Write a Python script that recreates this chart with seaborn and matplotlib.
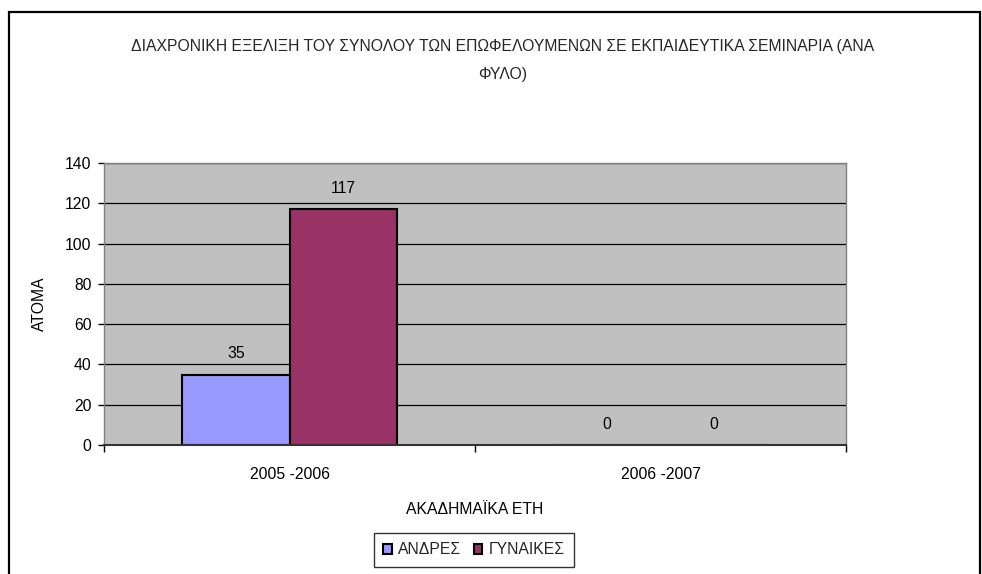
import matplotlib
matplotlib.use("Agg")
import matplotlib.pyplot as plt
import seaborn as sns
import pandas as pd
from matplotlib.patches import Rectangle, Patch

years = ["2005 -2006", "2006 -2007"]
series_names = ["ΑΝΔΡΕΣ", "ΓΥΝΑΙΚΕΣ"]
men = [35, 0]
women = [117, 0]
colors = ["#9999FF", "#993366"]
yticks = [0, 20, 40, 60, 80, 100, 120, 140]

df = pd.DataFrame({
    "year": years * 2,
    "group": [series_names[0]] * len(years) + [series_names[1]] * len(years),
    "value": men + women,
})

FS = 11.3

sns.set_theme(style="white")
plt.rcParams["font.family"] = ["Liberation Sans", "DejaVu Sans"]
plt.rcParams["font.size"] = FS

fig = plt.figure(figsize=(9.82, 5.74), dpi=100)
ax = fig.add_axes([104/982, 1-445/574, (846-104)/982, (445-163)/574])
ax.set_facecolor("#C0C0C0")

sns.barplot(data=df, x="year", y="value", hue="group", palette=colors,
            width=0.577, edgecolor="black", linewidth=1.5, ax=ax,
            legend=False, saturation=1, errorbar=None)

ax.set_ylim(0, 140)
ax.set_xlim(-0.5, 1.5)
ax.set_yticks(yticks)
ax.yaxis.grid(True, color="black", linewidth=0.9)
ax.set_axisbelow(True)
for s in ax.spines.values():
    s.set_color("#808080")
    s.set_linewidth(1.0)
ax.spines["bottom"].set_color("#333333")
ax.spines["bottom"].set_linewidth(1.5)

ax.tick_params(axis="y", left=True, length=4, width=1, color="black", pad=5,
               labelsize=FS, labelcolor="black")
ax.tick_params(axis="x", which="major", bottom=False, length=0, pad=16,
               labelsize=FS, labelcolor="black")
ax.set_xticks([-0.5, 0.5, 1.5], minor=True)
ax.tick_params(axis="x", which="minor", bottom=True, length=5, width=1, color="black")

for cont in ax.containers:
    for bar in cont:
        h = bar.get_height()
        ax.annotate(f"{h:.0f}", (bar.get_x() + bar.get_width()/2, h),
                    xytext=(0, 15), textcoords="offset points",
                    ha="center", va="center", fontsize=FS, color="black")

ax.set_ylabel("ΑΤΟΜΑ", fontsize=FS, labelpad=13, color="black")
ax.set_xlabel("ΑΚΑΔΗΜΑΪΚΑ ΕΤΗ", fontsize=FS, labelpad=14, color="black")

fig.text(503/982, 1-46/574,
         "ΔΙΑΧΡΟΝΙΚΗ ΕΞΕΛΙΞΗ ΤΟΥ ΣΥΝΟΛΟΥ ΤΩΝ ΕΠΩΦΕΛΟΥΜΕΝΩΝ ΣΕ ΕΚΠΑΙΔΕΥΤΙΚΑ ΣΕΜΙΝΑΡΙΑ (ΑΝΑ",
         ha="center", va="center", fontsize=FS)
fig.text(503/982, 1-75/574, "ΦΥΛΟ)", ha="center", va="center", fontsize=FS)

handles = [Patch(facecolor=c, edgecolor="black", linewidth=1.5) for c in colors]
leg = fig.legend(handles, series_names, loc="center", ncol=2,
                 bbox_to_anchor=(474/982, 1-550/574), fontsize=FS,
                 handlelength=0.55, handleheight=0.55, handletextpad=0.4,
                 columnspacing=0.8, frameon=True, fancybox=False,
                 edgecolor="black", borderpad=0.6)
leg.get_frame().set_linewidth(1.0)

fig.patches.append(Rectangle((9/982, -0.1), (980-9)/982, 1-12/574+0.1,
                             transform=fig.transFigure, fill=False,
                             edgecolor="black", linewidth=1.6, zorder=10))

fig.savefig("out.png", dpi=100)
